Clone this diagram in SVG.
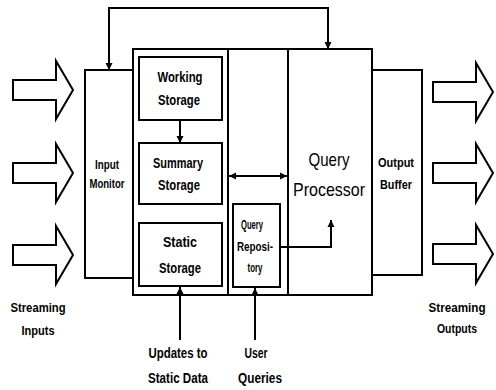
<svg xmlns="http://www.w3.org/2000/svg" width="496" height="390" viewBox="0 0 496 390">
<style>
.box{fill:#fff;stroke:#000;stroke-width:2}
.ln{fill:none;stroke:#000;stroke-width:2}
.big{fill:#fff;stroke:#000;stroke-width:2}
text{font-family:"Liberation Sans Narrow","Liberation Sans",Arial,sans-serif;font-weight:bold;font-size:15px;fill:#000;text-anchor:middle}
.qp{font-size:19px;font-weight:normal}
.sm{font-size:13px}
.xs{font-size:12px}
.lb{font-size:14px}
</style>
<defs>
<marker id="ah" viewBox="0 0 10 10" refX="10" refY="5" markerWidth="7" markerHeight="8" markerUnits="userSpaceOnUse" orient="auto-start-reverse">
<path d="M0,0 L10,5 L0,10 Z" fill="#000"/>
</marker>
<path id="blk" d="M0,-10 H43 V-29 L60,0 L43,29 V10 H0 Z" fill="#fff" stroke="#000" stroke-width="2" stroke-linejoin="miter"/>
</defs>

<g id="streaming-inputs">
<use href="#blk" x="13" y="90"/>
<use href="#blk" x="13" y="173"/>
<use href="#blk" x="13" y="255"/>
<text class="sm" x="38" y="312" textLength="55" lengthAdjust="spacingAndGlyphs">Streaming</text>
<text class="sm" x="38" y="335" textLength="33" lengthAdjust="spacingAndGlyphs">Inputs</text>
</g>

<g id="streaming-outputs">
<use href="#blk" x="433" y="92"/>
<use href="#blk" x="433" y="173"/>
<use href="#blk" x="433" y="254"/>
<text class="sm" x="457" y="312" textLength="57" lengthAdjust="spacingAndGlyphs">Streaming</text>
<text class="sm" x="457" y="333" textLength="40" lengthAdjust="spacingAndGlyphs">Outputs</text>
</g>

<g id="system-box">
<rect class="big" x="133" y="49" width="239" height="246"/>
<line class="ln" x1="228" y1="49" x2="228" y2="295"/>
</g>

<g id="input-monitor">
<rect class="box" x="85" y="70" width="48" height="208"/>
<text class="sm" x="107" y="169" textLength="24" lengthAdjust="spacingAndGlyphs">Input</text>
<text class="sm" x="107" y="188" textLength="35" lengthAdjust="spacingAndGlyphs">Monitor</text>
</g>

<g id="working-storage">
<rect class="box" x="139" y="57" width="83" height="63"/>
<text x="180" y="82" textLength="45" lengthAdjust="spacingAndGlyphs">Working</text>
<text x="179" y="105" textLength="42" lengthAdjust="spacingAndGlyphs">Storage</text>
</g>

<g id="summary-storage">
<rect class="box" x="139" y="143" width="83" height="61"/>
<text x="178" y="168" textLength="50" lengthAdjust="spacingAndGlyphs">Summary</text>
<text x="179" y="190" textLength="42" lengthAdjust="spacingAndGlyphs">Storage</text>
</g>

<g id="static-storage">
<rect class="box" x="139" y="223" width="83" height="63"/>
<text x="180" y="247" textLength="34" lengthAdjust="spacingAndGlyphs">Static</text>
<text x="180" y="273" textLength="42" lengthAdjust="spacingAndGlyphs">Storage</text>
</g>

<g id="query-repository">
<rect class="box" x="233" y="204" width="47" height="83"/>
<text class="xs" x="252" y="229" textLength="22" lengthAdjust="spacingAndGlyphs">Query</text>
<text class="xs" x="255" y="251" textLength="36" lengthAdjust="spacingAndGlyphs">Reposi-</text>
<text class="xs" x="255" y="272" textLength="15" lengthAdjust="spacingAndGlyphs">tory</text>
</g>

<g id="query-processor">
<rect class="box" x="288" y="49" width="84" height="246"/>
<text class="qp" x="329" y="166" textLength="41" lengthAdjust="spacingAndGlyphs">Query</text>
<text class="qp" x="329" y="196" textLength="72" lengthAdjust="spacingAndGlyphs">Processor</text>
</g>

<g id="output-buffer">
<rect class="box" x="372" y="70" width="50" height="205"/>
<text class="sm" x="396" y="167" textLength="36" lengthAdjust="spacingAndGlyphs">Output</text>
<text class="sm" x="396" y="189" textLength="32" lengthAdjust="spacingAndGlyphs">Buffer</text>
</g>

<g id="updates-label">
<text class="lb" x="178" y="358" textLength="59" lengthAdjust="spacingAndGlyphs">Updates to</text>
<text class="lb" x="178" y="383" textLength="60" lengthAdjust="spacingAndGlyphs">Static Data</text>
</g>

<g id="user-queries-label">
<text class="lb" x="256" y="358" textLength="23" lengthAdjust="spacingAndGlyphs">User</text>
<text class="lb" x="260" y="383" textLength="44" lengthAdjust="spacingAndGlyphs">Queries</text>
</g>

<g id="connectors">
<polyline class="ln" points="109,70 109,8 328,8 328,49" marker-start="url(#ah)" marker-end="url(#ah)"/>
<line class="ln" x1="180" y1="120" x2="180" y2="143" marker-end="url(#ah)"/>
<line class="ln" x1="229" y1="176" x2="287" y2="176" marker-start="url(#ah)" marker-end="url(#ah)"/>
<polyline class="ln" points="280,247 331,247 331,220" marker-end="url(#ah)"/>
<line class="ln" x1="180" y1="340" x2="180" y2="287" marker-end="url(#ah)"/>
<line class="ln" x1="255" y1="340" x2="255" y2="288" marker-end="url(#ah)"/>
</g>
</svg>
